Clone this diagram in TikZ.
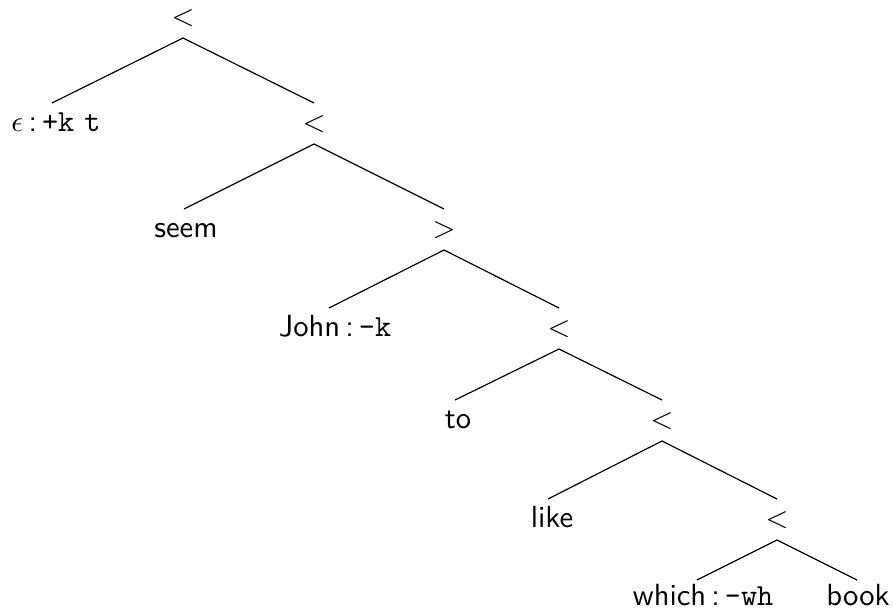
\documentclass[tikz,border=0pt]{standalone}
\begin{document}
\begin{tikzpicture}[x=0.34pt,y=-0.34pt,
  lbl/.style={anchor=base,inner sep=0pt,outer sep=0pt,text height=9.52pt,text depth=4.42pt,font=\fontsize{10.4}{12}\sffamily},
  edge/.style={line width=0.4pt}]
\useasboundingbox (0,0) rectangle (893,613);
\node[lbl] (r0) at (183,25) {$<$};
\node[lbl] (e) at (56,131) {$\epsilon$\,:\,\texttt{+k}\ \texttt{t}};
\node[lbl] (r1) at (314,131) {$<$};
\node[lbl] (seem) at (186,237) {seem};
\node[lbl] (r2) at (444,237) {$>$};
\node[lbl] (john) at (335,336) {John\,:\,\texttt{-k}};
\node[lbl] (r3) at (559,336) {$<$};
\node[lbl] (to) at (458,428) {to};
\node[lbl] (r4) at (662,428) {$<$};
\node[lbl] (like) at (552,527) {like};
\node[lbl] (r5) at (777,527) {$<$};
\node[lbl] (which) at (703,605) {which\,:\,\texttt{-wh}};
\node[lbl] (book) at (858,605) {book};
\draw[edge] ([xshift=-4*0.34pt]e.north) -- (r0.south) -- (r1.north);
\draw[edge] ([xshift=-2*0.34pt]seem.north) -- (r1.south) -- (r2.north);
\draw[edge] ([xshift=-6*0.34pt]john.north) -- (r2.south) -- (r3.north);
\draw[edge] ([xshift=-3*0.34pt]to.north) -- (r3.south) -- (r4.north);
\draw[edge] ([xshift=-4*0.34pt]like.north) -- (r4.south) -- (r5.north);
\draw[edge] ([xshift=-6*0.34pt,yshift=-3*0.34pt]which.north) -- (r5.south) -- ([xshift=-1*0.34pt,yshift=-3*0.34pt]book.north);
\end{tikzpicture}
\end{document}
